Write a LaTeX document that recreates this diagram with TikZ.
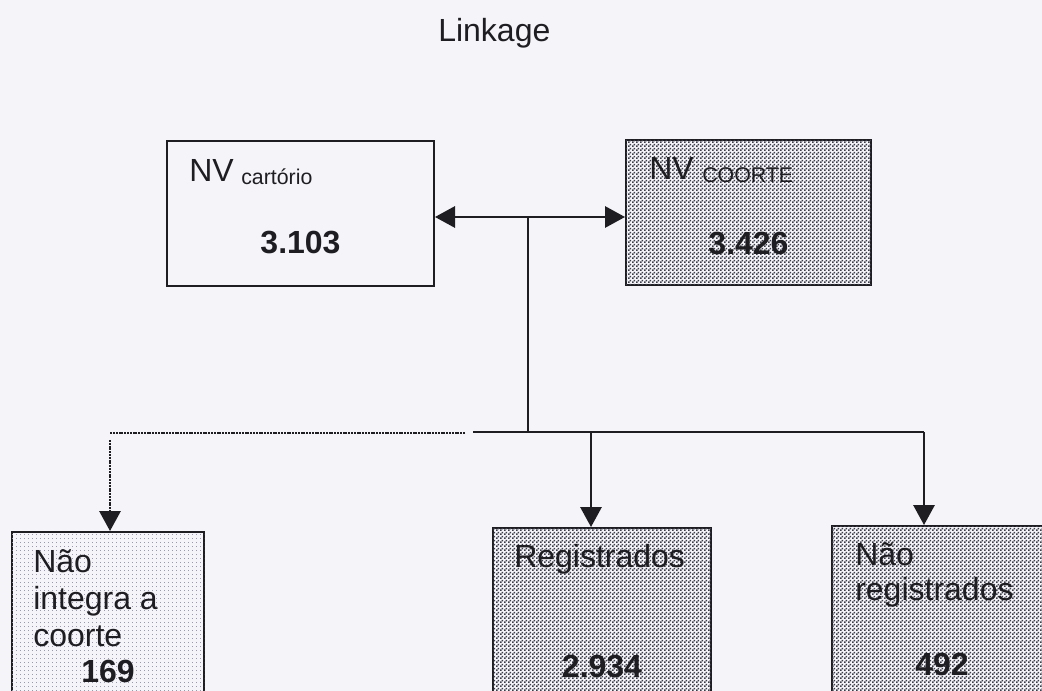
\documentclass[tikz,border=0pt]{standalone}
\usepackage{fontspec}
\setmainfont{Liberation Sans}
\usetikzlibrary{arrows.meta,patterns.meta}
\definecolor{paper}{HTML}{F4F4F9}
\definecolor{ink}{HTML}{1E1E22}
\definecolor{darkdot}{HTML}{3C3C48}
\definecolor{lightdot}{HTML}{9A9AA6}

% fine checker texture for the shaded boxes
\tikzdeclarepattern{
  name=finechecker,
  type=uncolored,
  bottom left={(0pt,0pt)},
  top right={(3pt,3pt)},
  tile size={(3pt,3pt)},
  code={
    \fill (0pt,0pt) rectangle (1.5pt,1.5pt);
    \fill (1.5pt,1.5pt) rectangle (3pt,3pt);
  }
}
% sparse dot texture for the light box
\tikzdeclarepattern{
  name=finedots,
  type=uncolored,
  bottom left={(0pt,0pt)},
  top right={(3pt,3pt)},
  tile size={(3pt,3pt)},
  code={
    \fill (0pt,0pt) rectangle (0.75pt,0.75pt);
  }
}

\tikzset{
  box/.style={draw=ink, line width=1.5pt, rectangle, inner sep=0pt},
  plainbox/.style={box, fill=paper},
  darkbox/.style={box, fill=paper, postaction={pattern=finechecker, pattern color=darkdot}},
  lightbox/.style={box, fill=paper, postaction={pattern=finedots, pattern color=lightdot}},
  big/.style={font=\fontsize{24pt}{28pt}\selectfont, text=ink, inner sep=0pt, anchor=base west},
  bignum/.style={font=\fontsize{24pt}{28pt}\selectfont\bfseries, text=ink, inner sep=0pt, anchor=base},
  small/.style={font=\fontsize{16pt}{19pt}\selectfont, text=ink, inner sep=0pt, anchor=base west},
  link/.style={draw=ink, line width=1.5pt},
  tip/.style={-{Triangle[length=15pt, width=16pt]}},
  tips/.style={{Triangle[length=15pt, width=16pt]}-{Triangle[length=15pt, width=16pt]}},
  dots/.style={dash pattern=on 1.5pt off 0.6pt}
}

\begin{document}
\begin{tikzpicture}[x=0.75pt, y=-0.75pt]
  % page frame and background
  \fill[paper] (0,0) rectangle (1042,691);
  \useasboundingbox (0,0) rectangle (1042,691);
  \clip (0,0) rectangle (1042,691);

  % title
  \node[big] (title) at (438,42) {Linkage};

  % upper boxes
  \node[plainbox, minimum width=200.25pt, minimum height=108.75pt] (cart) at (300.5,213.5) {};
  \node[darkbox, minimum width=183.75pt, minimum height=108.75pt] (coorte) at (748.5,212.5) {};

  \node[big] (cartNV) at (189,182) {NV};
  \node[small] (cartsub) at (241,185) {cartório};
  \node[bignum] (cartnum) at (300.5,254) {3.103};

  \node[big] (coNV) at (649,180) {NV};
  \node[small] (cosub) at (702,183) {COORTE};
  \node[bignum] (conum) at (748.5,255) {3.426};

  % lower boxes
  \node[lightbox, minimum width=144pt, minimum height=141pt] (nao) at (108,626) {};
  \node[darkbox, minimum width=163.5pt, minimum height=144pt] (reg) at (602,624) {};
  \node[darkbox, minimum width=171pt, minimum height=145.5pt] (naoreg) at (946,623) {};

  \node[big] (naoL1) at (33,572) {Não};
  \node[big] (naoL2) at (33,609) {integra a};
  \node[big] (naoL3) at (33,646) {coorte};
  \node[bignum] (naonum) at (108,682) {169};

  \node[big] (regL1) at (514,567) {Registrados};
  \node[bignum] (regnum) at (602,677) {2.934};

  \node[big] (nrL1) at (855,565) {Não};
  \node[big] (nrL2) at (855,600) {registrados};
  \node[bignum] (nrnum) at (942,675) {492};

  % junction points of the connectors
  \coordinate (j) at (528,217);
  \coordinate (bus) at (528,432);
  \coordinate (busL) at (473,432);
  \coordinate (dotR) at (465,433);
  \coordinate (dotL) at (110,433);
  \coordinate (dotD) at (110,440);
  \coordinate (regT) at (591,432);
  \coordinate (nrT) at (924,432);

  % link between the two registers
  \draw[link, tips] (cart.east |- j) -- (coorte.west |- j);
  \draw[link] (j) -- (bus);

  % distribution bus
  \draw[link] (busL) -- (nrT);
  \draw[link, tip] (regT) -- (regT |- reg.north);
  \draw[link, tip] (nrT) -- (nrT |- naoreg.north);

  % dotted branch
  \draw[link, dots] (dotR) -- (dotL);
  \draw[link, dots, tip] (dotD) -- (dotD |- nao.north);
\end{tikzpicture}
\end{document}
